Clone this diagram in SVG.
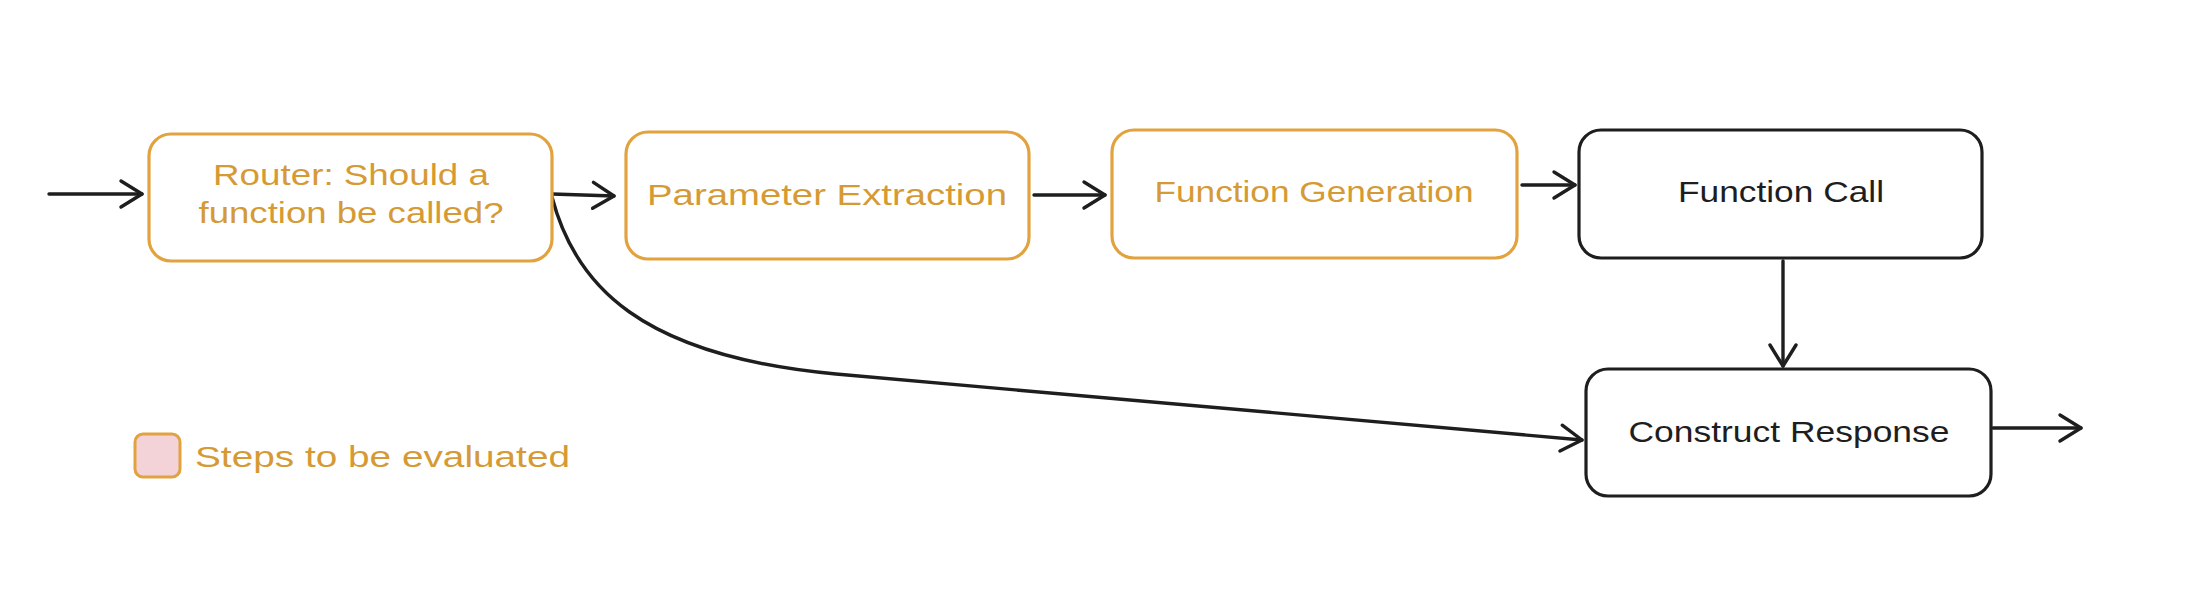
<svg xmlns="http://www.w3.org/2000/svg" width="2186" height="616" viewBox="0 0 2186 616">
<style>
.bg{fill:#ffffff}
.box{fill:#ffffff;stroke-width:3.2;}
.eval{stroke:#e2a23e}
.plain{stroke:#1e1e1e}
.t{font-family:"Liberation Sans","Noto Sans",sans-serif;font-size:30px;text-anchor:middle;dominant-baseline:central}
.to{fill:#d69a35}
.tb{fill:#1e1e1e}
.edge{fill:none;stroke:#1e1e1e;stroke-width:3.4;stroke-linecap:round}
</style>
<defs>
<marker id="arr" markerUnits="userSpaceOnUse" markerWidth="28" markerHeight="32" viewBox="0 0 28 32" refX="24" refY="16" orient="auto">
<path d="M3,3 L24,16 L3,29" fill="none" stroke="#1e1e1e" stroke-width="3.4" stroke-linecap="round" stroke-linejoin="round"/>
</marker>
</defs>
<rect class="bg" x="0" y="0" width="2186" height="616"/>
<g id="connectors">
<path class="edge" d="M49,194 L142,194" marker-end="url(#arr)"/>
<path class="edge" d="M552,194 L614,196" marker-end="url(#arr)"/>
<path class="edge" d="M1034,195 L1105,195" marker-end="url(#arr)"/>
<path class="edge" d="M1522,185 L1575,185" marker-end="url(#arr)"/>
<path class="edge" d="M1783,261 L1783,366" marker-end="url(#arr)"/>
<path class="edge" d="M1993,428 L2081,428" marker-end="url(#arr)"/>
<path class="edge" d="M552,197 C575,285 640,356 836,374 L1582,440" marker-end="url(#arr)"/>
</g>
<g id="router">
<rect class="box eval" x="149" y="134" width="403" height="127" rx="22"/>
<text class="t to" x="351" y="174" textLength="276" lengthAdjust="spacingAndGlyphs">Router: Should a</text>
<text class="t to" x="351" y="212" textLength="305" lengthAdjust="spacingAndGlyphs">function be called?</text>
</g>
<g id="parameter-extraction">
<rect class="box eval" x="626" y="132" width="403" height="127" rx="22"/>
<text class="t to" x="827" y="194" textLength="360" lengthAdjust="spacingAndGlyphs">Parameter Extraction</text>
</g>
<g id="function-generation">
<rect class="box eval" x="1112" y="130" width="405" height="128" rx="22"/>
<text class="t to" x="1314" y="191" textLength="319" lengthAdjust="spacingAndGlyphs">Function Generation</text>
</g>
<g id="function-call">
<rect class="box plain" x="1579" y="130" width="403" height="128" rx="22"/>
<text class="t tb" x="1781" y="191" textLength="206" lengthAdjust="spacingAndGlyphs">Function Call</text>
</g>
<g id="construct-response">
<rect class="box plain" x="1586" y="369" width="405" height="127" rx="22"/>
<text class="t tb" x="1789" y="431" textLength="321" lengthAdjust="spacingAndGlyphs">Construct Response</text>
</g>
<g id="legend">
<rect x="135" y="434" width="45" height="43" rx="8" fill="#f4d3d8" stroke="#e2a23e" stroke-width="3"/>
<text class="t to" x="195" y="456" style="text-anchor:start" textLength="375" lengthAdjust="spacingAndGlyphs">Steps to be evaluated</text>
</g>
</svg>
